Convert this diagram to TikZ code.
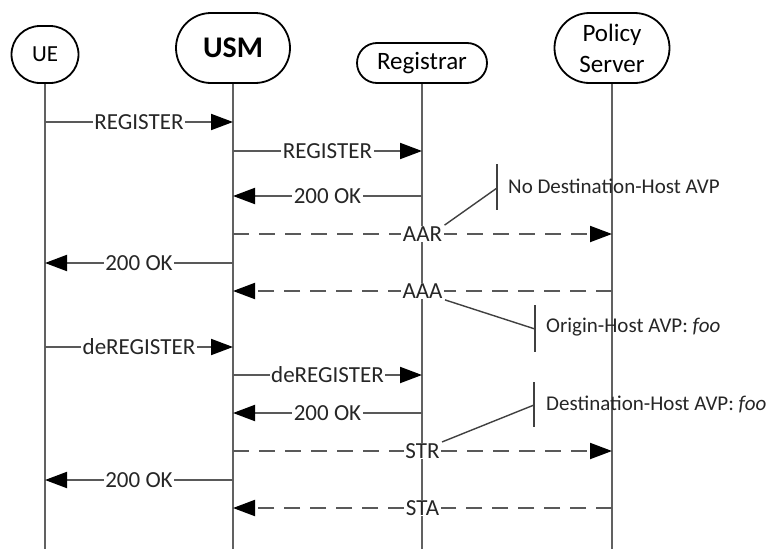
\documentclass[tikz,border=0pt]{standalone}
\usepackage{fontspec}
\setmainfont{Carlito}
\usetikzlibrary{arrows.meta,shapes.misc}
\begin{document}
\begin{tikzpicture}[x=1pt,y=-1pt,
 head/.style={draw=black, line width=1.8pt, rounded rectangle, inner sep=0pt, align=center, fill=white},
 life/.style={draw=black!62, line width=2.6pt},
 msg/.style={draw=black!65, line width=2pt, -{Triangle[length=22pt,width=16pt,color=black]}},
 dmsg/.style={msg, dash pattern=on 16pt off 10pt},
 lbl/.style={fill=white, inner xsep=1.5pt, inner ysep=0.5pt, font=\fontsize{23}{27}\selectfont, text=black!85},
 note/.style={draw=black!75, line width=1.4pt},
 notetext/.style={anchor=west, font=\fontsize{21}{25}\selectfont, inner sep=0pt, text=black!85}]
\useasboundingbox[fill=white] (0,0) rectangle (766,549);

% heads
\node[head, minimum width=67pt, minimum height=57pt, font=\fontsize{23}{27}\selectfont] (ue) at (45,54.5) {UE};
\node[head, minimum width=114pt, minimum height=70pt, font=\fontsize{30}{33}\selectfont\bfseries] (usm) at (233,48) {USM};
\node[head, minimum width=130pt, minimum height=40pt, font=\fontsize{25}{30}\selectfont] (reg) at (422,63) {Registrar};
\node[head, minimum width=115pt, minimum height=70pt, font=\fontsize{25}{31}\selectfont] (pol) at (612,48) {Policy\\Server};

% rows
\coordinate (bot) at (0,549);
\coordinate (r1) at (0,122);
\coordinate (r2) at (0,151);
\coordinate (r3) at (0,196);
\coordinate (r4) at (0,234);
\coordinate (r5) at (0,263);
\coordinate (r6) at (0,291);
\coordinate (r7) at (0,347);
\coordinate (r8) at (0,375);
\coordinate (r9) at (0,413);
\coordinate (r10) at (0,451);
\coordinate (r11) at (0,480);
\coordinate (r12) at (0,508);

% lifelines
\draw[life] (ue.south) -- (ue.south |- bot);
\draw[life] (usm.south) -- (usm.south |- bot);
\draw[life] (reg.south) -- (reg.south |- bot);
\draw[life] (pol.south) -- (pol.south |- bot);

% messages
\draw[msg] (ue.south |- r1) -- node[lbl]{REGISTER} (usm.south |- r1);
\draw[msg] (usm.south |- r2) -- node[lbl]{REGISTER} (reg.south |- r2);
\draw[msg] (reg.south |- r3) -- node[lbl]{200 OK} (usm.south |- r3);
\draw[dmsg] (usm.south |- r4) -- node[lbl] (aar) {AAR} (pol.south |- r4);
\draw[msg] (usm.south |- r5) -- node[lbl]{200 OK} (ue.south |- r5);
\draw[dmsg] (pol.south |- r6) -- node[lbl] (aaa) {AAA} (usm.south |- r6);
\draw[msg] (ue.south |- r7) -- node[lbl]{deREGISTER} (usm.south |- r7);
\draw[msg] (usm.south |- r8) -- node[lbl]{deREGISTER} (reg.south |- r8);
\draw[msg] (reg.south |- r9) -- node[lbl]{200 OK} (usm.south |- r9);
\draw[dmsg] (usm.south |- r10) -- node[lbl] (str) {STR} (pol.south |- r10);
\draw[msg] (usm.south |- r11) -- node[lbl]{200 OK} (ue.south |- r11);
\draw[dmsg] (pol.south |- r12) -- node[lbl] (sta) {STA} (usm.south |- r12);

% notes
\coordinate (b1t) at (497,164);
\coordinate (b1b) at (497,210);
\coordinate (b1m) at (497,188);
\draw[note] (b1t) -- (b1b);
\draw[note] (aar.north east) -- (b1m);
\node[notetext] (n1) at (508,186) {No Destination-Host AVP};

\coordinate (b2t) at (535,305);
\coordinate (b2b) at (535,352);
\coordinate (b2m) at (535,329);
\draw[note] (b2t) -- (b2b);
\draw[note] (aaa.south east) -- (b2m);
\node[notetext] (n2) at (546,327) {Origin-Host AVP: \textit{foo}};

\coordinate (b3t) at (534,382);
\coordinate (b3b) at (534,427);
\coordinate (b3m) at (534,405);
\draw[note] (b3t) -- (b3b);
\draw[note] (str.north east) -- (b3m);
\node[notetext] (n3) at (546,404) {Destination-Host AVP: \textit{foo}};
\end{tikzpicture}
\end{document}
